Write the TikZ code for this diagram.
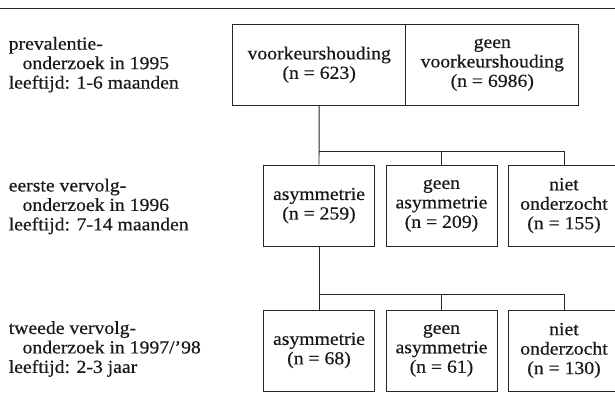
\documentclass[tikz,border=0pt]{standalone}
\usepackage{fontspec}
\setmainfont{Liberation Serif}[FakeStretch=1.07,FakeBold=0.5]

\begin{document}
\begin{tikzpicture}[x=0.75pt,y=-0.75pt,
	every node/.style={font=\fontsize{13.8}{14.6}\selectfont,inner sep=0pt,text=black!90},
	lijn/.style={draw=black!85,line width=0.7pt},
	vak/.style={lijn,align=center,minimum height=60.75pt},
	breed/.style={vak,minimum width=129.75pt},
	smal/.style={vak,minimum width=83.25pt},
	fase/.style={anchor=west,align=left}]
				\useasboundingbox (0,0) rectangle (615,398);
				\clip (0,0) rectangle (615,398);
				\draw[line width=1.1pt,black!85] (0,8.7) -- (615,8.7);
				\node[fase] (fase1) at (8.5,64.7) {prevalentie-\\\hspace*{0.75em}onderzoek in 1995\\leeftijd: 1-6 maanden};
				\node[fase] (fase2) at (8.5,206.5) {eerste vervolg-\\\hspace*{0.75em}onderzoek in 1996\\leeftijd: 7-14 maanden};
				\node[fase] (fase3) at (8.5,349) {tweede vervolg-\\\hspace*{0.75em}onderzoek in 1997/’98\\leeftijd: 2-3 jaar};
				\node[breed] (voor) at (319.2,64.7) {voorkeurshouding\\(n = 623)};
				\node[breed] (geenvoor) at (492.3,64.7) {geen\\voorkeurshouding\\(n = 6986)};
				\node[smal] (asym1) at (319,205.6) {asymmetrie\\(n = 259)};
				\node[smal] (geen1) at (441.5,205.6) {geen\\asymmetrie\\(n = 209)};
				\node[smal] (niet1) at (564,205.6) {niet\\onderzocht\\(n = 155)};
				\node[smal] (asym2) at (319,350.5) {asymmetrie\\(n = 68)};
				\node[smal] (geen2) at (441.5,350.5) {geen\\asymmetrie\\(n = 61)};
				\node[smal] (niet2) at (564,350.5) {niet\\onderzocht\\(n = 130)};
				\coordinate (tak1) at (319,151);
				\coordinate (tak2) at (319,294);
				\draw[lijn] (voor.south) to (asym1.north);
				\draw[lijn] (tak1) -| (niet1.north);
				\draw[lijn] (geen1.north) to (geen1.north |- tak1);
				\draw[lijn] (asym1.south) to (asym2.north);
				\draw[lijn] (tak2) -| (niet2.north);
				\draw[lijn] (geen2.north) to (geen2.north |- tak2);
			\end{tikzpicture}
\end{document}
